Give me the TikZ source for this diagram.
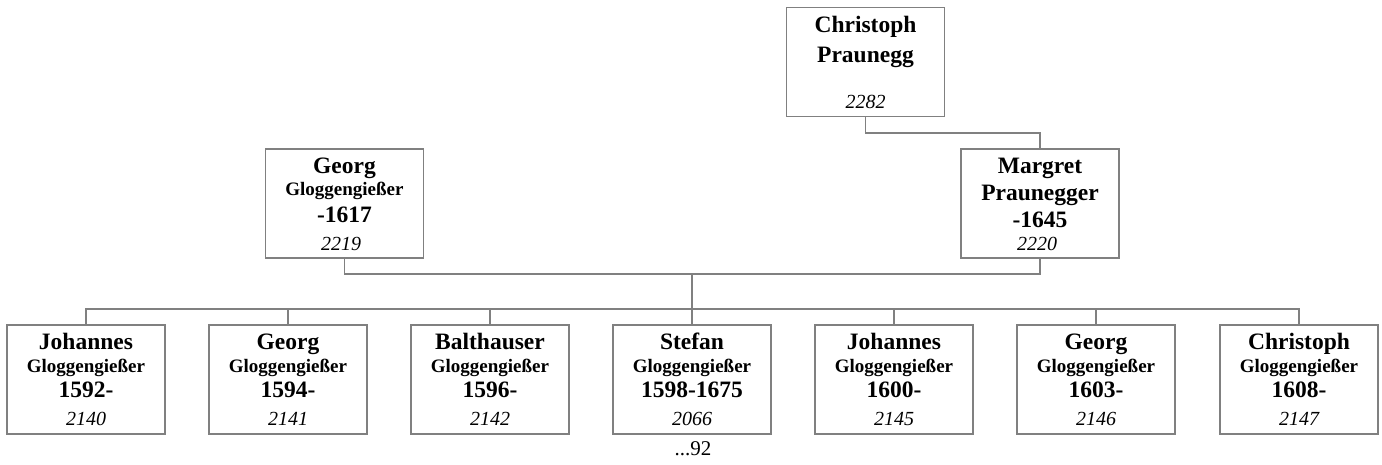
\documentclass[tikz,border=0pt]{standalone}
\usepackage{fontspec}
\setmainfont{Liberation Serif}
\usepackage{tikz}

\begin{document}
\begin{tikzpicture}[x=1pt,y=-1pt,
  box/.style={draw=gray,line width=1.1pt,minimum width=158pt,minimum height=109pt,inner sep=0pt},
  link/.style={draw=gray,line width=1.1pt},
  nm/.style={anchor=base,font=\fontsize{23.5}{26}\selectfont\bfseries,inner sep=0pt},
  sub/.style={anchor=base,font=\fontsize{19}{21}\selectfont\bfseries,inner sep=0pt},
  num/.style={anchor=base,font=\fontsize{20}{22}\selectfont\itshape,inner sep=0pt}]
\useasboundingbox (0,0) rectangle (1382,464);
% grandparent
\node[box] (chp) at (865.5,62) {};
\node[nm] at (865.5,32) {Christoph}; \node[nm] at (865.5,62) {Praunegg}; \node[num] at (865.5,108) {2282};
% parents
\node[box] (georg) at (344.5,203.5) {};
\node[nm] at (344.5,173) {Georg}; \node[sub] at (344.5,195) {Gloggengießer};
\node[nm] at (344.5,222) {-1617}; \node[num] at (341,250) {2219};
\node[box] (margret) at (1040,203.5) {};
\node[nm] at (1040,173) {Margret}; \node[nm] at (1040,200) {Praunegger};
\node[nm] at (1040,227) {-1645}; \node[num] at (1037,250) {2220};
\coordinate (gm) at (1000,133); \coordinate (pmid) at (692,274); \coordinate (cmid) at (692,309);
\draw[link] (chp.south) |- (gm) -| (margret.north);
\draw[link] (georg.south) |- (pmid) -| (margret.south);
\draw[link] (pmid) -- (cmid);
% children
\foreach \i/\x/\n/\y/\d in {1/86/Johannes/1592-/2140,2/288/Georg/1594-/2141,3/490/Balthauser/1596-/2142,
  4/692/Stefan/1598-1675/2066,5/894/Johannes/1600-/2145,6/1096/Georg/1603-/2146,7/1299/Christoph/1608-/2147} {
  \node[box] (c\i) at (\x,379.5) {};
  \node[nm] at (\x,349) {\n}; \node[sub] at (\x,372) {Gloggengießer};
  \node[nm] at (\x,397) {\y}; \node[num] at (\x,425) {\d};
  \draw[link] (cmid) -| (c\i.north);
}
\node[anchor=base,font=\fontsize{21}{23}\selectfont,inner sep=0pt] (more) at (693,455) {...92};
\end{tikzpicture}
\end{document}
